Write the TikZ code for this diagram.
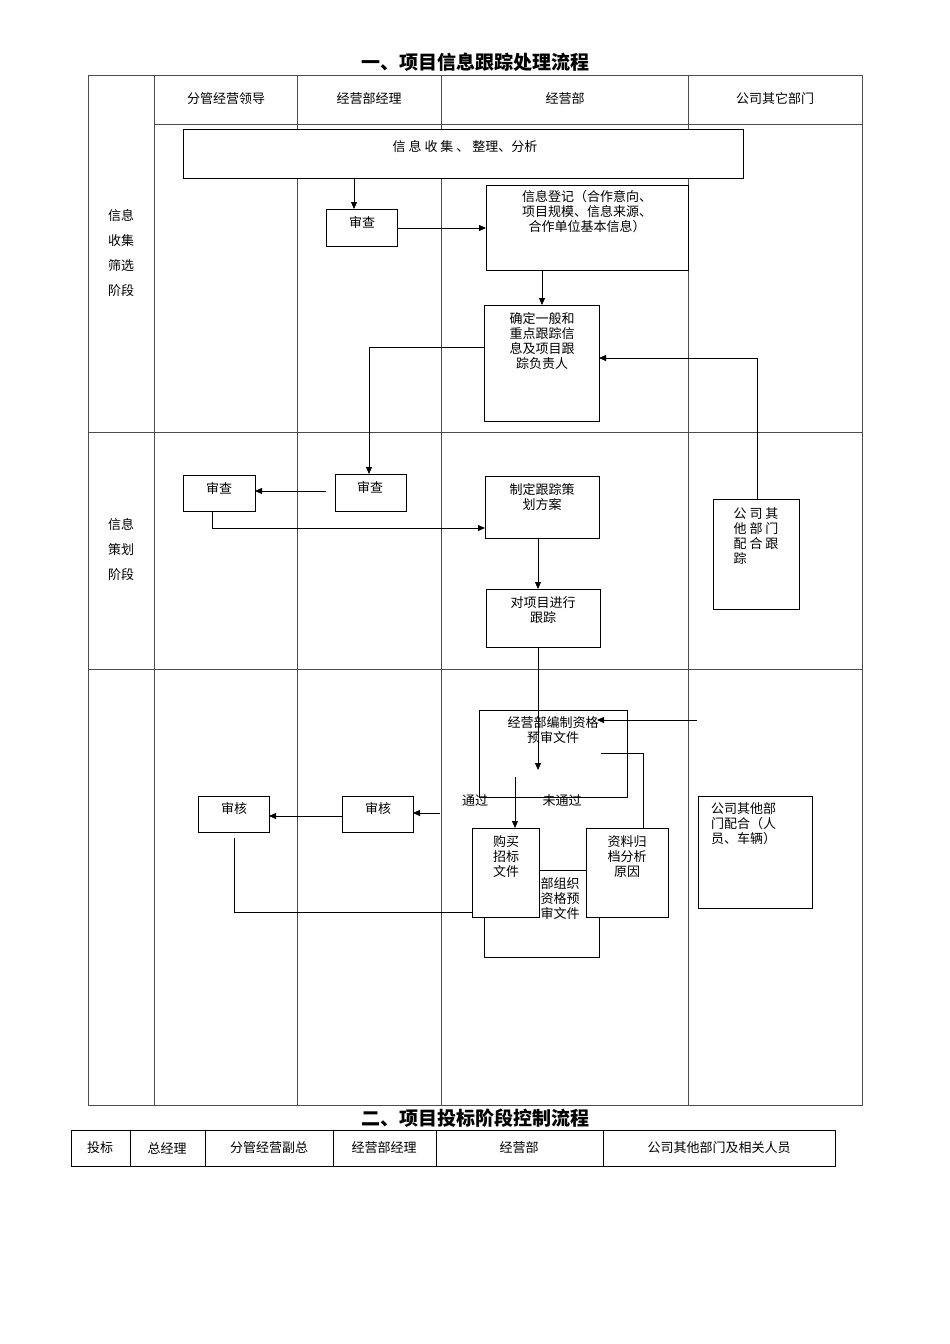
\documentclass[tikz,border=0pt]{standalone}
\usepackage{fontspec}
\setmainfont{Noto Sans CJK SC}
\usetikzlibrary{arrows.meta}
\begin{document}
\begin{tikzpicture}[x=1pt,y=-1pt,
  bx/.style={draw,fill=white,line width=1pt},
  ln/.style={line width=0.8pt},
  ar/.style={ln,-{Triangle[length=7pt,width=6pt]}},
  gl/.style={line width=0.6pt,draw=black!70},
  tx/.style={font=\fontsize{13}{14}\selectfont,align=center,inner sep=0pt,anchor=north},
  hd/.style={font=\fontsize{13}{15}\selectfont,inner sep=0pt}]
\useasboundingbox (0,0) rectangle (950,1344);
\node[font=\bfseries\fontsize{19}{20}\selectfont] (t1) at (475,62) {一、项目信息跟踪处理流程};
\draw[gl] (88,75) rectangle (862,1105);
\foreach \x in {154,297,441,688} \draw[gl] (\x,75) -- (\x,1105);
\draw[gl] (154,124) -- (862,124);
\draw[gl] (88,432) -- (862,432);
\draw[gl] (88,669) -- (862,669);
\node[hd] (h1) at (226,99) {分管经营领导};
\node[hd] (h2) at (369,99) {经营部经理};
\node[hd] (h3) at (565,99) {经营部};
\node[hd] (h4) at (775,99) {公司其它部门};
\node[hd,align=center,font=\fontsize{13}{25}\selectfont] (s1) at (121,253) {信息\\收集\\筛选\\阶段};
\node[hd,align=center,font=\fontsize{13}{25}\selectfont] (s2) at (121,550) {信息\\策划\\阶段};
% boxes
\draw[bx] (183,129) rectangle (743,178);
\node[tx] (b1) at (465,140) {信 息 收 集 、 整理、分析};
\draw[bx] (326,209) rectangle (397,246); \node[tx] (c1) at (362,216) {审查};
\draw[bx] (486,185) rectangle (688,270); \node[tx,font=\fontsize{13}{15}\selectfont] (d1) at (587,190) {信息登记（合作意向、\\项目规模、信息来源、\\合作单位基本信息）};
\draw[bx] (484,305) rectangle (599,421); \node[tx,font=\fontsize{13}{15}\selectfont] (e1) at (542,312) {确定一般和\\重点跟踪信\\息及项目跟\\踪负责人};
\draw[bx] (183,475) rectangle (255,511); \node[tx] (f1) at (219,482) {审查};
\draw[bx] (335,474) rectangle (406,511); \node[tx] (f2) at (370,481) {审查};
\draw[bx] (485,476) rectangle (599,538); \node[tx,font=\fontsize{13}{15}\selectfont] (g1) at (542,483) {制定跟踪策\\划方案};
\draw[bx] (713,499) rectangle (799,609); \node[tx,font=\fontsize{13}{15}\selectfont] (g2) at (756,507) {公 司 其\\他 部 门\\配 合 跟\\踪\hphantom{ 合 跟}};
\draw[bx] (486,589) rectangle (600,647); \node[tx,font=\fontsize{13}{15}\selectfont] (h5) at (543,596) {对项目进行\\跟踪};
\draw[bx] (479,710) rectangle (627,797); \node[tx,font=\fontsize{13}{15}\selectfont] (k1) at (553,716) {经营部编制资格\\预审文件};
\draw[bx] (198,796) rectangle (269,832); \node[tx] (m1) at (234,802) {审核};
\draw[bx] (342,796) rectangle (413,832); \node[tx] (m2) at (378,802) {审核};
\draw[bx] (484,870) rectangle (599,957); \node[tx,font=\fontsize{13}{15}\selectfont] (n0) at (560,877) {部组织\\资格预\\审文件};
\draw[bx] (472,828) rectangle (539,917); \node[tx,font=\fontsize{13}{15}\selectfont] (n1) at (506,835) {购买\\招标\\文件};
\draw[bx] (586,828) rectangle (668,917); \node[tx,font=\fontsize{13}{15}\selectfont] (n2) at (627,835) {资料归\\档分析\\原因};
\draw[bx] (698,796) rectangle (812,908); \node[tx,font=\fontsize{13}{15}\selectfont,anchor=north west] (p1) at (711,802) {公司其他部\\门配合（人\\员、车辆）};
\node[hd] (q1) at (475,801) {通过};
\node[hd] (q2) at (562,801) {未通过};
% arrows
\coordinate (a1) at (354,178); \coordinate (a2) at (354,209);
\draw[ar] (a1) -- (a2);
\draw[ar] (397,228) -- (486,228);
\draw[ar] (542,270) -- (542,305);
\draw[ar] (484,347) -- (369,347) -- (369,474);
\draw[ar] (757,499) -- (757,358) -- (599,358);
\draw[ar] (326,491) -- (255,491);
\draw[ar] (212,511) -- (212,528) -- (485,528);
\draw[ar] (538,538) -- (538,589);
\draw[ar] (538,647) -- (538,770);
\draw[ar] (697,720) -- (597,720);
\draw[ar] (515,777) -- (515,828);
\draw[ln] (601,753) -- (643,753) -- (643,828);
\draw[ar] (440,813) -- (413,813);
\draw[ar] (342,816) -- (269,816);
\draw[ln] (234,838) -- (234,912) -- (472,912);
% second section
\node[font=\bfseries\fontsize{19}{20}\selectfont] (t2) at (475,1118) {二、项目投标阶段控制流程};
\draw[ln] (71,1130) rectangle (835,1166);
\foreach \x in {130,205,333,436,603} \draw[ln] (\x,1130) -- (\x,1166);
\node[hd] (r1) at (100,1148) {投标};
\node[hd] (r2) at (167,1148) {总经理};
\node[hd] (r3) at (269,1148) {分管经营副总};
\node[hd] (r4) at (384,1148) {经营部经理};
\node[hd] (r5) at (519,1148) {经营部};
\node[hd] (r6) at (719,1148) {公司其他部门及相关人员};
\end{tikzpicture}
\end{document}
